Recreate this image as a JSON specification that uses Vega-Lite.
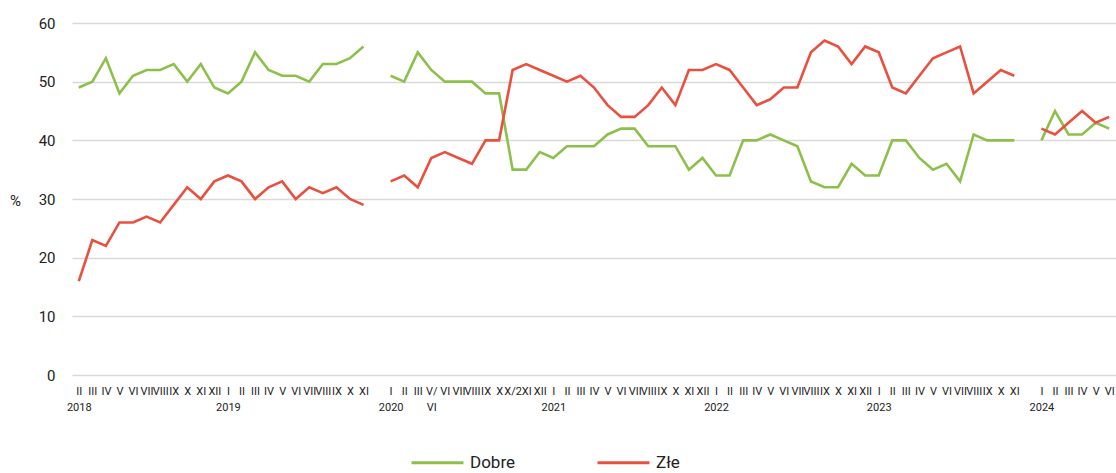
{
  "$schema": "https://vega.github.io/schema/vega-lite/v6.json",
  "width": 1044,
  "height": 352,
  "autosize": "none",
  "padding": {"left": 72, "top": 23, "right": 0, "bottom": 98},
  "background": "white",
  "data": {
    "values": [
      {"okres": "2018-II", "Dobre": 49, "Złe": 16},
      {"okres": "2018-III", "Dobre": 50, "Złe": 23},
      {"okres": "2018-IV", "Dobre": 54, "Złe": 22},
      {"okres": "2018-V", "Dobre": 48, "Złe": 26},
      {"okres": "2018-VI", "Dobre": 51, "Złe": 26},
      {"okres": "2018-VII", "Dobre": 52, "Złe": 27},
      {"okres": "2018-VIII", "Dobre": 52, "Złe": 26},
      {"okres": "2018-IX", "Dobre": 53, "Złe": 29},
      {"okres": "2018-X", "Dobre": 50, "Złe": 32},
      {"okres": "2018-XI", "Dobre": 53, "Złe": 30},
      {"okres": "2018-XII", "Dobre": 49, "Złe": 33},
      {"okres": "2019-I", "Dobre": 48, "Złe": 34},
      {"okres": "2019-II", "Dobre": 50, "Złe": 33},
      {"okres": "2019-III", "Dobre": 55, "Złe": 30},
      {"okres": "2019-IV", "Dobre": 52, "Złe": 32},
      {"okres": "2019-V", "Dobre": 51, "Złe": 33},
      {"okres": "2019-VI", "Dobre": 51, "Złe": 30},
      {"okres": "2019-VII", "Dobre": 50, "Złe": 32},
      {"okres": "2019-VIII", "Dobre": 53, "Złe": 31},
      {"okres": "2019-IX", "Dobre": 53, "Złe": 32},
      {"okres": "2019-X", "Dobre": 54, "Złe": 30},
      {"okres": "2019-XI", "Dobre": 56, "Złe": 29},
      {"okres": "2019-", "Dobre": null, "Złe": null},
      {"okres": "2020-I", "Dobre": 51, "Złe": 33},
      {"okres": "2020-II", "Dobre": 50, "Złe": 34},
      {"okres": "2020-III", "Dobre": 55, "Złe": 32},
      {"okres": "2020-V/VI", "Dobre": 52, "Złe": 37},
      {"okres": "2020-VI", "Dobre": 50, "Złe": 38},
      {"okres": "2020-VII", "Dobre": 50, "Złe": 37},
      {"okres": "2020-VIII", "Dobre": 50, "Złe": 36},
      {"okres": "2020-IX", "Dobre": 48, "Złe": 40},
      {"okres": "2020-X", "Dobre": 48, "Złe": 40},
      {"okres": "2020-X/2", "Dobre": 35, "Złe": 52},
      {"okres": "2020-XI", "Dobre": 35, "Złe": 53},
      {"okres": "2020-XII", "Dobre": 38, "Złe": 52},
      {"okres": "2021-I", "Dobre": 37, "Złe": 51},
      {"okres": "2021-II", "Dobre": 39, "Złe": 50},
      {"okres": "2021-III", "Dobre": 39, "Złe": 51},
      {"okres": "2021-IV", "Dobre": 39, "Złe": 49},
      {"okres": "2021-V", "Dobre": 41, "Złe": 46},
      {"okres": "2021-VI", "Dobre": 42, "Złe": 44},
      {"okres": "2021-VII", "Dobre": 42, "Złe": 44},
      {"okres": "2021-VIII", "Dobre": 39, "Złe": 46},
      {"okres": "2021-IX", "Dobre": 39, "Złe": 49},
      {"okres": "2021-X", "Dobre": 39, "Złe": 46},
      {"okres": "2021-XI", "Dobre": 35, "Złe": 52},
      {"okres": "2021-XII", "Dobre": 37, "Złe": 52},
      {"okres": "2022-I", "Dobre": 34, "Złe": 53},
      {"okres": "2022-II", "Dobre": 34, "Złe": 52},
      {"okres": "2022-III", "Dobre": 40, "Złe": 49},
      {"okres": "2022-IV", "Dobre": 40, "Złe": 46},
      {"okres": "2022-V", "Dobre": 41, "Złe": 47},
      {"okres": "2022-VI", "Dobre": 40, "Złe": 49},
      {"okres": "2022-VII", "Dobre": 39, "Złe": 49},
      {"okres": "2022-VIII", "Dobre": 33, "Złe": 55},
      {"okres": "2022-IX", "Dobre": 32, "Złe": 57},
      {"okres": "2022-X", "Dobre": 32, "Złe": 56},
      {"okres": "2022-XI", "Dobre": 36, "Złe": 53},
      {"okres": "2022-XII", "Dobre": 34, "Złe": 56},
      {"okres": "2023-I", "Dobre": 34, "Złe": 55},
      {"okres": "2023-II", "Dobre": 40, "Złe": 49},
      {"okres": "2023-III", "Dobre": 40, "Złe": 48},
      {"okres": "2023-IV", "Dobre": 37, "Złe": 51},
      {"okres": "2023-V", "Dobre": 35, "Złe": 54},
      {"okres": "2023-VI", "Dobre": 36, "Złe": 55},
      {"okres": "2023-VII", "Dobre": 33, "Złe": 56},
      {"okres": "2023-VIII", "Dobre": 41, "Złe": 48},
      {"okres": "2023-IX", "Dobre": 40, "Złe": 50},
      {"okres": "2023-X", "Dobre": 40, "Złe": 52},
      {"okres": "2023-XI", "Dobre": 40, "Złe": 51},
      {"okres": "2023-", "Dobre": null, "Złe": null},
      {"okres": "2024-I", "Dobre": 40, "Złe": 42},
      {"okres": "2024-II", "Dobre": 45, "Złe": 41},
      {"okres": "2024-III", "Dobre": 41, "Złe": 43},
      {"okres": "2024-IV", "Dobre": 41, "Złe": 45},
      {"okres": "2024-V", "Dobre": 43, "Złe": 43},
      {"okres": "2024-VI", "Dobre": 42, "Złe": 44}
    ]
  },
  "transform": [
    {"fold": ["Dobre", "Złe"], "as": ["ocena", "procent"]}
  ],
  "mark": {"type": "line", "strokeWidth": 2.6, "invalid": "break-paths-show-domains", "strokeJoin": "miter"},
  "encoding": {
    "x": {
      "field": "okres",
      "type": "ordinal",
      "sort": null,
      "scale": {"type": "point", "padding": 0.5},
      "axis": {
        "title": null,
        "domain": false,
        "ticks": false,
        "grid": false,
        "labelAngle": 0,
        "labelOverlap": false,
        "labelFont": "Roboto",
        "labelFontSize": 11,
        "labelColor": "#222222",
        "labelPadding": 16,
        "labelLineHeight": 16,
        "labelBaseline": "middle",
        "labelExpr": "datum.value == '2020-V/VI' ? ['V/', 'VI'] : [split(datum.value, '-')[1], (split(datum.value, '-')[1] == 'I' || datum.value == '2018-II') ? split(datum.value, '-')[0] : '']"
      }
    },
    "y": {
      "field": "procent",
      "type": "quantitative",
      "scale": {"domain": [0, 60], "nice": false},
      "axis": {
        "values": [0, 10, 20, 30, 40, 50, 60],
        "title": "%",
        "titleAngle": 0,
        "titleX": -57,
        "titleY": 177,
        "titleAlign": "center",
        "titleBaseline": "middle",
        "titleFont": "Roboto",
        "titleFontSize": 15,
        "titleFontWeight": "normal",
        "titleColor": "#222222",
        "domain": false,
        "ticks": false,
        "labelFont": "Roboto",
        "labelFontSize": 15,
        "labelColor": "#222222",
        "labelPadding": 17,
        "gridColor": "#d9d9d9",
        "gridWidth": 1.5
      }
    },
    "color": {
      "field": "ocena",
      "type": "nominal",
      "scale": {"domain": ["Dobre", "Złe"], "range": ["#8dc04b", "#e8503f"]},
      "legend": {
        "title": null,
        "orient": "none",
        "direction": "horizontal",
        "legendX": 338,
        "legendY": 412,
        "symbolType": "stroke",
        "symbolSize": 2700,
        "symbolStrokeWidth": 3,
        "labelFont": "Roboto",
        "labelFontSize": 17,
        "labelColor": "#222222",
        "labelOffset": 5,
        "columnPadding": 75
      }
    }
  },
  "config": {"view": {"stroke": null}}
}
